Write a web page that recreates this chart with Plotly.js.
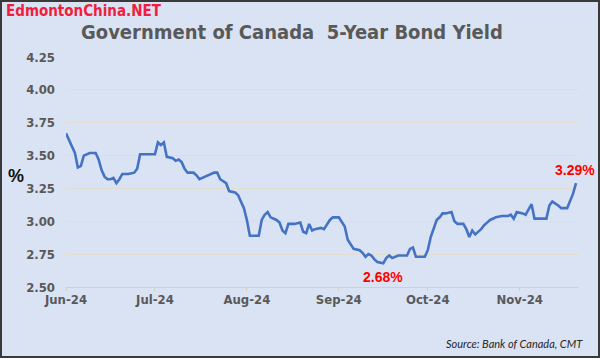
<!DOCTYPE html>
<html>
<head>
<meta charset="utf-8">
<script src="https://cdn.plot.ly/plotly-3.0.1.min.js"></script>
<style>
  html, body { margin: 0; padding: 0; background: #dae3f3; }
  #wrap { width: 600px; height: 358px; box-sizing: border-box; border: 2px solid #3a3a3a; background: #dae3f3; overflow: hidden; }
  #chart { width: 596px; height: 354px; }
</style>
</head>
<body>
<div id="wrap"><div id="chart"></div></div>
<script>
// ---- Data ----
const dates = [
  "2024-06-01","2024-06-02","2024-06-03","2024-06-04","2024-06-05","2024-06-06","2024-06-07","2024-06-09","2024-06-11","2024-06-12",
  "2024-06-13","2024-06-14","2024-06-15","2024-06-16","2024-06-17","2024-06-18","2024-06-19","2024-06-20","2024-06-22","2024-06-24",
  "2024-06-25","2024-06-26","2024-06-28","2024-07-01","2024-07-02","2024-07-03","2024-07-04","2024-07-05","2024-07-07","2024-07-08",
  "2024-07-09","2024-07-10","2024-07-11","2024-07-12","2024-07-14","2024-07-15","2024-07-16","2024-07-18","2024-07-20","2024-07-21",
  "2024-07-22","2024-07-23","2024-07-25","2024-07-26","2024-07-28","2024-07-29","2024-07-31","2024-08-01","2024-08-02","2024-08-05",
  "2024-08-06","2024-08-07","2024-08-08","2024-08-09","2024-08-11","2024-08-12","2024-08-13","2024-08-14","2024-08-15","2024-08-17",
  "2024-08-19","2024-08-20","2024-08-21","2024-08-22","2024-08-23","2024-08-24","2024-08-26","2024-08-27","2024-08-29","2024-08-30",
  "2024-09-01","2024-09-03","2024-09-04","2024-09-05","2024-09-06","2024-09-08","2024-09-09","2024-09-10","2024-09-11","2024-09-12",
  "2024-09-13","2024-09-14","2024-09-16","2024-09-17","2024-09-18","2024-09-19","2024-09-20","2024-09-21","2024-09-23","2024-09-24",
  "2024-09-25","2024-09-26","2024-09-27","2024-09-28","2024-09-30","2024-10-01","2024-10-02","2024-10-04","2024-10-05","2024-10-06",
  "2024-10-07","2024-10-09","2024-10-10","2024-10-11","2024-10-13","2024-10-14","2024-10-15","2024-10-16","2024-10-17","2024-10-19",
  "2024-10-20","2024-10-21","2024-10-22","2024-10-24","2024-10-26","2024-10-28","2024-10-29","2024-10-30","2024-10-31","2024-11-02",
  "2024-11-03","2024-11-04","2024-11-05","2024-11-06","2024-11-08","2024-11-10","2024-11-11","2024-11-12","2024-11-14","2024-11-15",
  "2024-11-17","2024-11-18","2024-11-19","2024-11-20"
];
const yields = [
  3.67,3.62,3.58,3.52,3.41,3.42,3.50,3.52,3.52,3.47,
  3.39,3.34,3.32,3.32,3.33,3.29,3.32,3.36,3.36,3.37,
  3.40,3.51,3.51,3.51,3.60,3.58,3.60,3.49,3.48,3.46,
  3.47,3.45,3.40,3.37,3.37,3.35,3.32,3.34,3.36,3.37,
  3.37,3.32,3.29,3.23,3.22,3.20,3.10,3.01,2.89,2.89,
  3.01,3.05,3.07,3.03,3.01,2.99,2.93,2.91,2.98,2.98,
  2.99,2.92,2.91,2.98,2.93,2.94,2.95,2.94,3.01,3.03,
  3.03,2.96,2.86,2.82,2.79,2.78,2.76,2.73,2.75,2.74,
  2.71,2.69,2.68,2.72,2.74,2.72,2.73,2.74,2.74,2.74,
  2.79,2.80,2.73,2.73,2.73,2.78,2.88,3.01,3.03,3.06,
  3.06,3.07,3.00,2.98,2.98,2.94,2.88,2.93,2.90,2.94,
  2.97,2.99,3.01,3.03,3.04,3.04,3.05,3.02,3.07,3.06,
  3.05,3.09,3.13,3.02,3.02,3.02,3.12,3.15,3.12,3.10,
  3.10,3.16,3.21,3.29
];
const monthTicks = ["2024-06-01","2024-07-01","2024-08-01","2024-09-01","2024-10-01","2024-11-01"];
const monthLabels = ["Jun-24","Jul-24","Aug-24","Sep-24","Oct-24","Nov-24"];
const yTicks = [2.50,2.75,3.00,3.25,3.50,3.75,4.00,4.25];

const chartTitle = "Government of Canada  5-Year Bond Yield";
const watermark = "EdmontonChina.NET";
const sourceText = "Source: Bank of Canada, CMT";

// ---- Derived annotation anchors ----
let minIdx = 0;
yields.forEach((v, i) => { if (v < yields[minIdx]) minIdx = i; });
const lastIdx = yields.length - 1;

const narrow = "Liberation Sans Narrow, DejaVu Sans Condensed, Arial Narrow, sans-serif";

const trace = {
  x: dates, y: yields, type: "scatter", mode: "lines",
  line: { color: "#4472c4", width: 2.6 },
  hoverinfo: "skip"
};

const layout = {
  width: 596, height: 354,
  margin: { l: 64, r: 19, t: 55, b: 69 },
  paper_bgcolor: "#dae3f3", plot_bgcolor: "#dae3f3",
  showlegend: false,
  xaxis: {
    type: "date",
    range: ["2024-06-01", "2024-11-21"],
    tickmode: "array", tickvals: monthTicks, ticktext: monthLabels,
    showgrid: false, zeroline: false,
    showline: true, linecolor: "#d4d0c4", linewidth: 1,
    ticks: "outside", ticklen: 3, tickcolor: "#d4d0c4",
    ticklabelstandoff: -3,
    tickfont: { family: narrow, size: 13, color: "#595959", weight: "bold" }
  },
  yaxis: {
    range: [2.5, 4.25],
    tickmode: "array", tickvals: yTicks,
    tickformat: ".2f",
    showgrid: true, gridcolor: "#e2ddd0", gridwidth: 1,
    zeroline: false, showline: false, ticks: "",
    ticklabelstandoff: 10,
    tickfont: { family: narrow, size: 13, color: "#595959", weight: "bold" }
  },
  annotations: [
    { text: watermark, xref: "paper", yref: "paper", x: -0.121, y: 1.2, xanchor: "left", yanchor: "middle",
      showarrow: false, font: { family: narrow, size: 15, color: "#f01e3c", weight: "bold" } },
    { text: chartTitle, xref: "paper", yref: "paper", x: 0.4396, y: 1.108, xanchor: "center", yanchor: "middle",
      showarrow: false, font: { family: narrow, size: 20, color: "#595959", weight: "bold" } },
    { text: "%", xref: "paper", yref: "paper", x: -0.0975, y: 0.483, xanchor: "center", yanchor: "middle",
      showarrow: false, font: { family: "Liberation Sans, Arial, sans-serif", size: 18, color: "#111111", weight: "bold" } },
    { text: yields[minIdx].toFixed(2) + "%", x: dates[minIdx], y: yields[minIdx], xanchor: "center", yanchor: "middle",
      yshift: -14, showarrow: false, font: { family: "Liberation Sans, Arial, sans-serif", size: 14, color: "#ff0000", weight: "bold" } },
    { text: yields[lastIdx].toFixed(2) + "%", x: dates[lastIdx], y: yields[lastIdx], xanchor: "center", yanchor: "middle",
      yshift: 13, xshift: -1, showarrow: false, font: { family: "Liberation Sans, Arial, sans-serif", size: 14, color: "#ff0000", weight: "bold" } },
    { text: sourceText, xref: "paper", yref: "paper", x: 1.0117, y: -0.2435, xanchor: "right", yanchor: "middle",
      showarrow: false, font: { family: "Lato, Open Sans, sans-serif", size: 11, color: "#262626", style: "italic" } }
  ]
};

Plotly.newPlot("chart", [trace], layout, { displayModeBar: false, staticPlot: true });
</script>
</body>
</html>
